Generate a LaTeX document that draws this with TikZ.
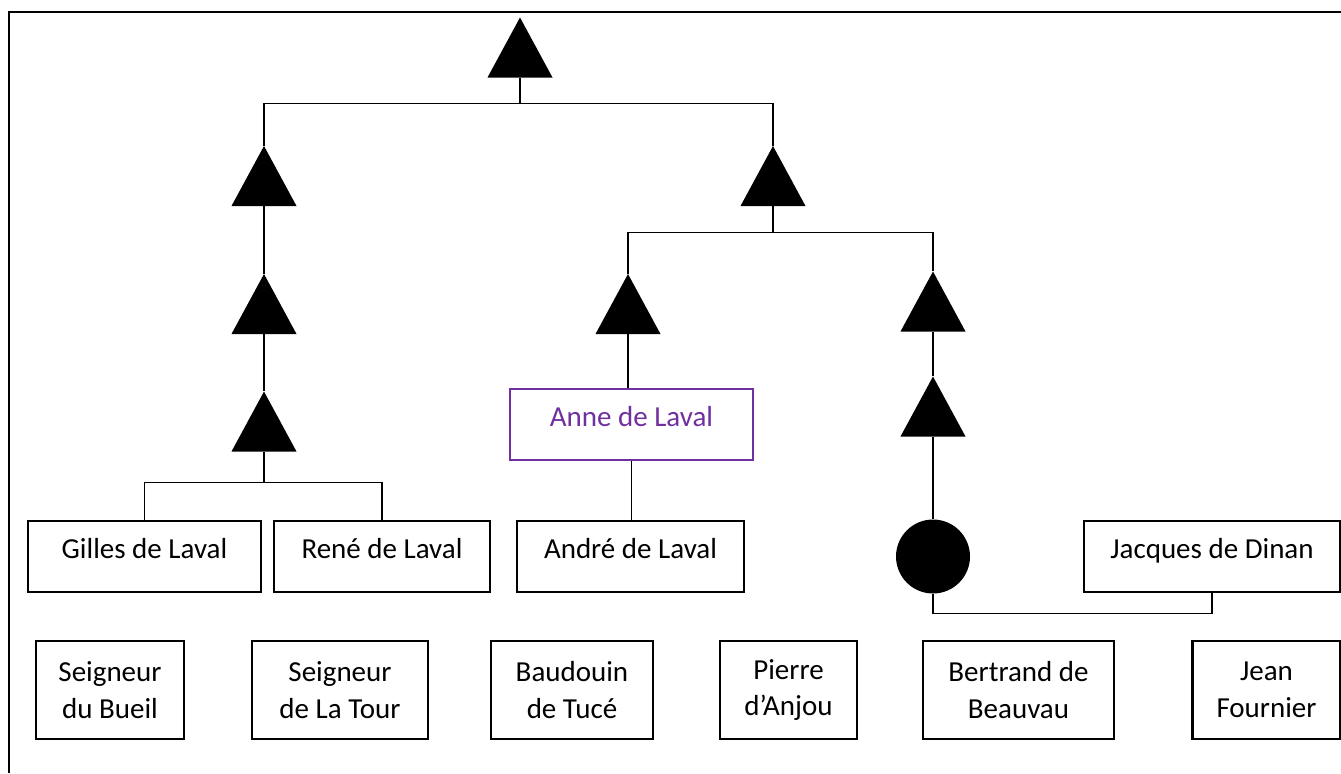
\documentclass[tikz,border=0pt]{standalone}
\usepackage{fontspec}
\setmainfont{Carlito}
\usepackage{xcolor}
\usepackage{tikz}
\usetikzlibrary{positioning}
\definecolor{heir}{RGB}{112,48,160}

\begin{document}
\begin{tikzpicture}[x=0.2mm, y=-0.2mm,
  every node/.style={font=\fontsize{16.5}{21}\selectfont},
  tri/.style={minimum width=13mm, minimum height=12mm, inner sep=0pt,
    path picture={\fill (path picture bounding box.south west) -- (path picture bounding box.south east) -- (path picture bounding box.north) -- cycle;}},
  dot/.style={circle, fill, minimum size=14.8mm, inner sep=0pt},
  namebox/.style={draw, line width=1.2pt, minimum height=14.2mm, inner sep=0pt, text height=0.65em, text depth=0.4em},
  lordbox/.style={draw, line width=1.2pt, minimum height=19.6mm, inner sep=0pt, align=center},
  link/.style={line width=0.6pt},
  frame/.style={line width=1.2pt},
]
  \useasboundingbox (0,0) rectangle (1341,773);
  \draw[frame] (9,773) -- (9,12) -- (1341,12);

  % ancestors
  \node[tri] (t0) at (520,47.5) {};
  \node[tri] (t1) at (264,176) {};
  \node[tri] (t2) at (264,304) {};
  \node[tri] (t3) at (264,421.5) {};
  \node[tri] (t4) at (773,176) {};
  \node[tri] (t5) at (628,304) {};
  \node[tri] (t6) at (933,301.5) {};
  \node[tri] (t7) at (933,406.5) {};
  \node[dot] (d0) at (933,556.5) {};

  % heirs
  \node[namebox, minimum width=46.6mm] (gilles) at (144.5,556.5) {Gilles de Laval};
  \node[namebox, minimum width=43.2mm] (rene) at (382,556.5) {René de Laval};
  \node[namebox, minimum width=45.4mm] (andre) at (630.5,556.5) {André de Laval};
  \node[namebox, minimum width=51.2mm] (jacques) at (1212,556.5) {Jacques de Dinan};
  \node[namebox, draw=heir, text=heir, minimum width=48.6mm] (anne) at (631.5,424.5) {Anne de Laval};

  % other lords
  \node[lordbox, minimum width=29.6mm] (bueil) at (110,690) {Seigneur\\du Bueil};
  \node[lordbox, minimum width=35.2mm] (latour) at (340,690) {Seigneur\\de La Tour};
  \node[lordbox, minimum width=32.4mm] (tuce) at (572,690) {Baudouin\\de Tucé};
  \node[lordbox, minimum width=27.4mm] (anjou) at (788.5,690) {Pierre\\d’Anjou};
  \node[lordbox, minimum width=38.2mm] (beauvau) at (1018.5,690) {Bertrand de\\Beauvau};
  \node[lordbox, minimum width=29.6mm] (fournier) at (1266.5,690) {Jean\\Fournier};

  \draw[link] (t0.south) -- ++(0,26) -| (t1.north);
  \draw[link] (t0.south) -- ++(0,26) -| (t4.north);
  \draw[link] (t1.south) -- (t2.north);
  \draw[link] (t2.south) -- (t3.north);
  \draw[link] (t3.south) -- ++(0,31) -| (gilles.north);
  \draw[link] (t3.south) -- ++(0,31) -| (rene.north);
  \draw[link] (t4.south) -- ++(0,26) -| (t5.north);
  \draw[link] (t4.south) -- ++(0,26) -| (t6.north);
  \draw[link] (t5.south) -- (t5.south |- anne.north);
  \draw[link] (anne.south) -- (anne.south |- andre.north);
  \draw[link] (t6.south) -- (t7.north);
  \draw[link] (t7.south) -- (d0.north);
  \draw[link] (d0.south) -- ++(0,20) -| (jacques.south);
\end{tikzpicture}
\end{document}
